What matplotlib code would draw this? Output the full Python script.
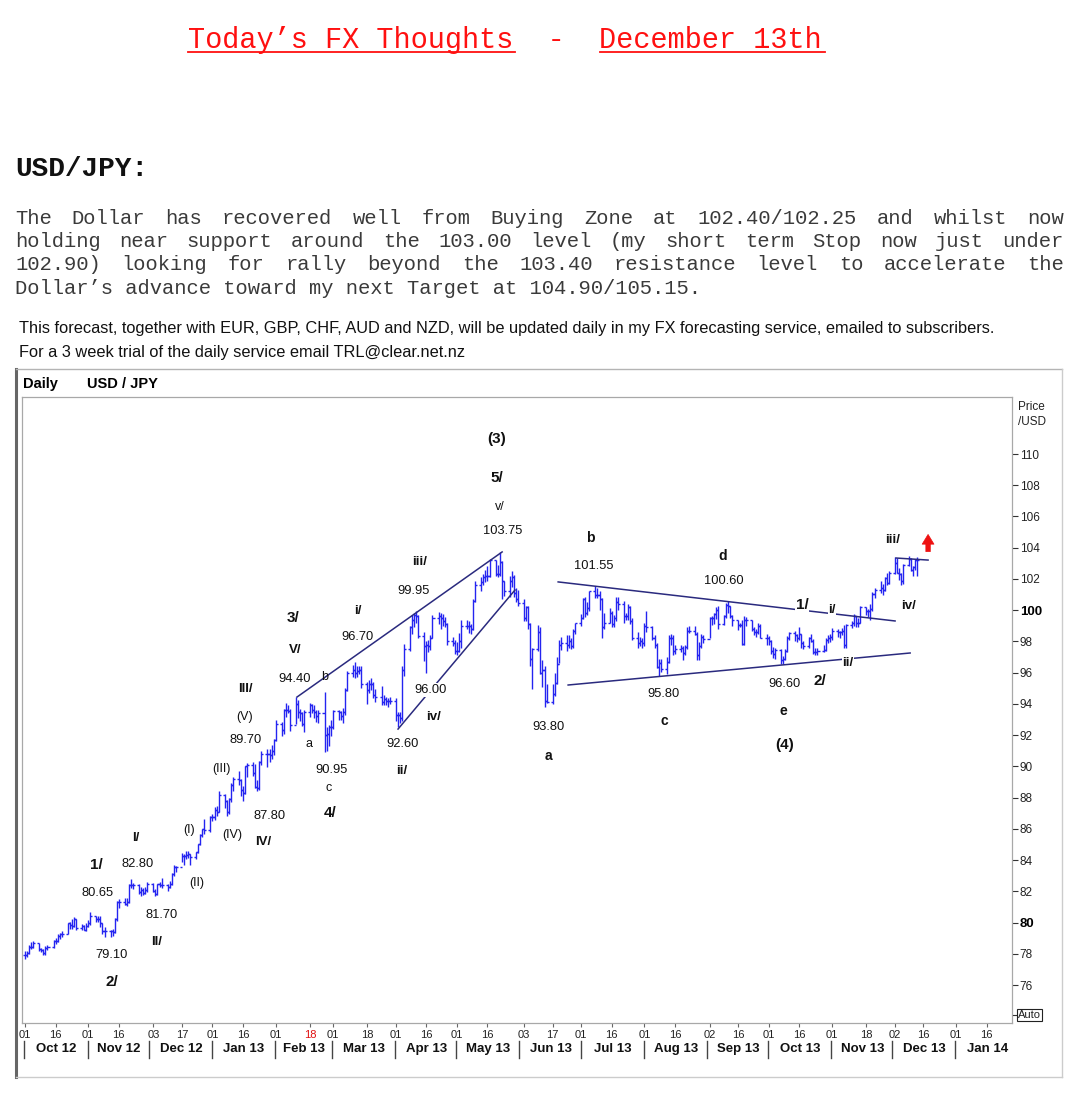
import numpy as np
import pandas as pd
import matplotlib
matplotlib.use("Agg")
import matplotlib.pyplot as plt

plt.rcParams['font.family'] = ['Liberation Sans', 'DejaVu Sans']

# daily USD/JPY bars, Oct 1 2012 - Dec 13 2013 (one value per weekday)
highs = [
    # Oct 12
    78.15, 78.20, 78.55, 78.75, 78.80, 78.70, 78.40, 78.30, 78.50, 78.55, 78.90, 79.00,
    79.25, 79.35, 79.45, 80.00, 80.05, 80.20, 80.35, 80.25, 79.90, 79.85, 79.95,
    # Nov 12
    80.15, 80.65, 80.45, 80.40, 80.45, 80.00, 79.70, 79.55, 79.60, 80.30, 81.40, 81.50,
    81.60, 81.55, 82.50, 82.80, 82.55, 82.45, 82.25, 82.20, 82.25, 82.60,
    # Dec 12
    82.55, 82.15, 82.50, 82.60, 82.85, 82.50, 82.65, 83.15, 83.70, 83.65, 84.45, 84.40,
    84.60, 84.60, 84.40, 84.55, 85.05, 85.70, 86.00, 86.65, 86.80,
    # Jan 13
    86.95, 87.40, 87.45, 88.40, 88.20, 87.85, 88.00, 88.95, 89.30, 89.70, 89.20, 88.75,
    90.05, 90.20, 90.25, 90.15, 89.10, 90.35, 91.00, 91.10, 91.10, 91.40, 91.75,
    # Feb 13
    92.95, 92.85, 93.70, 94.05, 93.90, 93.70, 94.45, 94.25, 93.70, 93.50, 93.60, 94.05,
    94.00, 93.90, 93.60, 93.60, 94.75, 92.50, 92.65, 92.95,
    # Mar 13
    93.60, 93.60, 93.55, 93.75, 95.00, 96.10, 96.50, 96.70, 96.45, 96.45, 96.40, 95.40,
    95.50, 95.65, 95.40, 94.95, 95.15, 94.60, 94.45, 94.40, 94.45,
    # Apr 13
    94.35, 93.45, 93.50, 96.40, 97.85, 99.00, 99.70, 99.80, 99.95, 99.70, 98.60, 98.00,
    98.10, 98.40, 99.70, 99.90, 99.80, 99.75, 99.55, 99.20, 98.30, 98.10,
    # May 13
    97.95, 98.55, 99.35, 99.35, 99.30, 99.10, 100.70, 101.90, 102.15, 102.30, 102.60, 102.80,
    103.30, 103.20, 102.90, 103.75, 103.15, 101.90, 102.20, 102.50, 102.25, 101.45, 101.30,
    # Jun 13
    100.70, 100.25, 100.30, 99.20, 97.60, 99.05, 98.90, 96.80, 96.40, 95.30, 95.25, 95.95,
    97.00, 98.10, 98.30, 98.40, 98.40, 98.20, 98.80, 99.20,
    # Jul 13
    99.75, 100.80, 100.85, 100.55, 101.25, 101.55, 101.40, 101.20, 100.75, 99.80, 100.15, 99.95,
    99.70, 100.85, 100.85, 100.60, 99.85, 100.40, 100.25, 99.50, 98.60, 98.30, 98.25,
    # Aug 13
    99.20, 99.95, 99.00, 98.40, 97.90, 96.90, 96.90, 97.00, 98.40, 98.50, 98.40, 97.80,
    97.80, 97.70, 97.80, 98.90, 99.00, 99.00, 98.60, 97.95, 98.50, 98.40,
    # Sep 13
    99.55, 99.65, 99.85, 100.20, 100.25, 99.70, 100.45, 100.60, 100.30, 99.70, 99.40, 99.20,
    99.35, 99.60, 99.55, 99.40, 98.95, 98.80, 99.20, 99.10, 98.50,
    # Oct 13
    98.35, 98.10, 97.65, 97.60, 97.50, 97.05, 97.50, 98.35, 98.60, 98.65, 98.50, 98.95,
    98.50, 98.00, 98.30, 98.50, 98.15, 97.60, 97.60, 97.75, 98.20, 98.40, 98.45,
    # Nov 13
    98.85, 98.80, 98.70, 98.85, 99.05, 99.10, 99.30, 99.75, 99.65, 99.50, 100.25, 100.20,
    100.10, 100.40, 101.15, 101.40, 101.90, 101.65, 102.15, 102.40, 102.50,
    # Dec 13
    103.40, 103.35, 102.70, 102.35, 102.95, 103.45, 103.35, 102.80, 103.30, 103.40,
]

lows = [
    77.65, 77.80, 78.00, 78.30, 78.35, 78.20, 78.10, 77.95, 77.90, 78.25, 78.35, 78.65,
    78.75, 78.95, 79.05, 79.25, 79.60, 79.60, 79.70, 79.55, 79.50, 79.50, 79.45,
    79.70, 79.85, 80.05, 80.05, 79.70, 79.30, 79.10, 79.10, 79.15, 79.35, 80.10, 80.95,
    81.10, 81.05, 81.25, 82.20, 82.15, 81.80, 81.70, 81.75, 81.80, 81.95,
    81.95, 81.70, 81.75, 82.25, 82.20, 82.05, 82.20, 82.40, 83.00, 83.25, 83.90, 83.70,
    84.10, 84.15, 83.70, 84.10, 84.45, 84.95, 85.50, 85.70, 85.80,
    86.50, 86.55, 86.85, 87.05, 87.35, 86.80, 86.95, 87.75, 88.45, 88.80, 88.10, 87.80,
    88.25, 89.35, 89.40, 88.60, 88.40, 88.50, 90.10, 89.95, 90.25, 90.45, 90.70,
    91.60, 91.95, 92.10, 93.15, 93.40, 92.25, 92.70, 93.10, 92.90, 92.60, 92.20, 93.15,
    93.40, 93.10, 92.85, 92.80, 90.90, 91.00, 91.30, 91.95,
    92.40, 92.95, 92.95, 92.80, 93.30, 94.85, 95.70, 95.65, 95.70, 95.90, 95.05, 94.00,
    94.70, 94.90, 94.40, 94.15, 93.90, 93.95, 93.90, 93.80, 94.00,
    92.90, 92.55, 92.80, 92.90, 95.80, 97.40, 98.50, 98.90, 99.20, 98.20, 96.75, 96.00,
    97.30, 97.45, 98.20, 99.10, 98.80, 99.00, 98.90, 97.80, 97.70, 97.20,
    97.10, 97.30, 97.55, 98.80, 98.55, 98.50, 98.75, 100.50, 101.25, 101.60, 101.80, 101.85,
    102.10, 102.20, 102.15, 102.20, 100.70, 100.90, 100.85, 101.50, 100.85, 100.50, 100.30,
    99.30, 99.30, 98.80, 96.40, 94.95, 97.40, 95.90, 95.10, 93.80, 94.05, 94.00, 94.50,
    95.30, 96.60, 97.45, 97.40, 97.55, 97.50, 97.60, 98.50,
    99.00, 99.45, 99.55, 99.70, 99.95, 100.80, 100.75, 100.00, 98.20, 98.80, 99.15, 98.90,
    98.90, 99.30, 100.00, 99.20, 99.35, 99.40, 99.10, 98.10, 97.60, 97.70, 97.60,
    97.70, 98.60, 98.10, 97.55, 96.30, 95.80, 96.05, 95.90, 96.60, 97.80, 97.15, 97.20,
    97.30, 96.80, 97.10, 97.50, 98.55, 98.40, 96.80, 96.80, 97.60, 97.90,
    98.20, 99.05, 99.10, 99.45, 98.80, 99.05, 99.50, 99.80, 99.50, 99.00, 98.75, 98.90,
    97.75, 97.80, 99.00, 98.70, 98.40, 98.30, 98.50, 98.20, 97.80,
    97.80, 97.20, 96.95, 96.90, 96.55, 96.55, 96.80, 97.30, 98.10, 98.00, 97.95, 98.10,
    97.60, 97.50, 97.60, 97.95, 97.20, 97.15, 97.10, 97.30, 97.40, 97.90, 97.95,
    98.10, 98.30, 98.20, 98.40, 97.60, 97.60, 98.85, 99.00, 98.90, 98.90, 99.15, 99.70,
    99.55, 99.35, 99.95, 100.75, 101.10, 101.00, 101.20, 101.60, 101.70,
    102.30, 102.35, 101.95, 101.60, 101.70, 102.80, 102.50, 102.20, 102.60, 102.20,
]

closes = [
    77.95, 78.05, 78.45, 78.45, 78.70, 78.30, 78.25, 78.05, 78.40, 78.45, 78.80, 78.85,
    79.15, 79.25, 79.30, 79.95, 79.85, 79.80, 80.20, 79.65, 79.75, 79.55, 79.80,
    79.95, 80.45, 80.25, 80.20, 79.95, 79.45, 79.45, 79.45, 79.40, 80.20, 81.30, 81.30,
    81.20, 81.30, 82.40, 82.40, 82.40, 81.95, 82.10, 81.90, 82.10, 82.50,
    82.00, 81.80, 82.45, 82.40, 82.40, 82.30, 82.50, 83.10, 83.55, 83.55, 84.25, 84.25,
    84.35, 84.40, 84.20, 84.50, 85.00, 85.60, 86.00, 85.90, 86.75,
    86.75, 87.20, 87.10, 88.15, 87.80, 87.10, 87.90, 88.80, 89.20, 89.10, 88.50, 88.30,
    90.00, 90.10, 89.60, 88.70, 88.60, 90.30, 90.80, 90.80, 90.70, 91.00, 91.70,
    92.70, 92.30, 93.60, 93.60, 93.55, 92.65, 94.00, 93.50, 93.40, 92.70, 93.50, 93.90,
    93.60, 93.50, 93.20, 93.40, 92.00, 92.10, 92.50, 92.55,
    93.55, 93.50, 93.20, 93.50, 94.90, 96.00, 96.20, 96.00, 96.10, 96.15, 95.25, 94.90,
    95.30, 95.30, 94.55, 94.45, 94.15, 94.30, 94.20, 94.20, 94.20,
    93.30, 93.30, 93.10, 96.20, 97.50, 98.90, 99.40, 99.70, 99.60, 98.35, 97.70, 97.80,
    97.70, 98.20, 99.50, 99.60, 99.50, 99.30, 99.10, 98.00, 97.90, 97.40,
    97.40, 98.00, 99.00, 99.00, 99.00, 98.80, 100.60, 101.60, 101.80, 102.10, 102.20, 102.20,
    103.20, 102.30, 102.30, 103.10, 101.90, 101.20, 101.90, 102.10, 101.10, 100.70, 100.45,
    99.50, 100.20, 99.10, 96.90, 97.50, 98.60, 96.00, 96.15, 94.20, 94.10, 94.65, 95.35,
    96.55, 97.80, 97.90, 97.80, 98.05, 97.70, 98.70, 99.15,
    99.50, 100.70, 99.80, 100.15, 101.20, 101.00, 101.00, 100.70, 98.90, 99.20, 99.85, 99.10,
    99.50, 100.50, 100.40, 99.60, 99.60, 100.20, 99.30, 98.25, 97.90, 98.00, 97.90,
    99.00, 98.90, 98.20, 97.75, 96.35, 96.65, 96.25, 96.70, 98.25, 98.20, 97.40, 97.50,
    97.60, 97.25, 97.65, 98.70, 98.70, 98.50, 97.10, 97.70, 98.30, 98.15,
    99.50, 99.50, 99.75, 100.00, 99.10, 99.60, 100.35, 100.30, 99.60, 99.35, 99.05, 99.05,
    97.85, 99.40, 99.35, 98.80, 98.60, 98.60, 99.00, 98.25, 98.25,
    98.00, 97.40, 97.20, 97.45, 96.80, 96.90, 97.40, 98.20, 98.55, 98.40, 98.20, 98.50,
    97.90, 97.70, 98.20, 98.05, 97.30, 97.35, 97.40, 97.45, 98.10, 98.20, 98.30,
    98.70, 98.60, 98.60, 98.70, 97.80, 99.05, 99.20, 99.60, 99.20, 99.20, 100.20, 99.95,
    99.95, 100.10, 101.05, 101.30, 101.45, 101.30, 102.05, 101.75, 102.40,
    103.05, 102.40, 102.30, 101.85, 102.90, 103.25, 102.55, 102.75, 103.20, 103.20,
]
first_open = 77.90

# x axis: tick dates and month names
tick_dates = ['2012-10-01', '2012-10-16', '2012-11-01', '2012-11-16', '2012-12-03', '2012-12-17',
              '2013-01-01', '2013-01-16', '2013-02-01', '2013-02-18', '2013-03-01', '2013-03-18',
              '2013-04-01', '2013-04-16', '2013-05-01', '2013-05-16', '2013-06-03', '2013-06-17',
              '2013-07-01', '2013-07-16', '2013-08-01', '2013-08-16', '2013-09-02', '2013-09-16',
              '2013-10-01', '2013-10-16', '2013-11-01', '2013-11-18', '2013-12-02', '2013-12-16',
              '2014-01-01', '2014-01-16']
month_names = ['Oct 12', 'Nov 12', 'Dec 12', 'Jan 13', 'Feb 13', 'Mar 13', 'Apr 13', 'May 13',
               'Jun 13', 'Jul 13', 'Aug 13', 'Sep 13', 'Oct 13', 'Nov 13', 'Dec 13', 'Jan 14']
price_ticks = list(range(76, 111, 2))

# wave counts / price notes: text, day offset, price, size, weight
wave_labels = [
    ("(3)", 231.7, 110.96, 11, "bold"), ("5/", 231.7, 108.46, 11, "bold"),
    ("v/", 233.2, 106.61, 9, "normal"), ("103.75", 234.7, 105.07, 9.3, "normal"),
    ("b", 277.4, 104.62, 10, "bold"), ("101.55", 279.3, 102.83, 9.3, "normal"),
    ("d", 342.7, 103.47, 10, "bold"), ("100.60", 343.2, 101.87, 9.3, "normal"),
    ("1/", 381.4, 100.33, 11, "bold"), ("i/", 396.2, 100.01, 9.5, "bold"),
    ("iii/", 426.1, 104.49, 9.5, "bold"), ("iv/", 433.5, 100.27, 9.5, "bold"),
    ("ii/", 404.0, 96.62, 9.5, "bold"), ("2/", 390.3, 95.47, 11, "bold"),
    ("96.60", 372.6, 95.28, 9.3, "normal"), ("e", 372.1, 93.55, 10, "bold"),
    ("(4)", 373.1, 91.37, 11, "bold"), ("95.80", 313.2, 94.64, 9.3, "normal"),
    ("c", 313.7, 92.91, 10, "bold"), ("93.80", 257.2, 92.52, 9.3, "normal"),
    ("a", 256.8, 90.67, 10, "bold"), ("iii/", 193.9, 103.09, 9.5, "bold"),
    ("99.95", 190.5, 101.23, 9.3, "normal"), ("i/", 163.5, 99.95, 9.5, "bold"),
    ("96.70", 163.0, 98.28, 9.3, "normal"), ("3/", 131.6, 99.50, 11, "bold"),
    ("V/", 132.5, 97.45, 9.5, "bold"), ("94.40", 132.1, 95.60, 9.3, "normal"),
    ("b", 147.3, 95.72, 9, "normal"), ("III/", 108.0, 94.96, 9.5, "bold"),
    ("(V)", 108.0, 93.16, 9, "normal"), ("89.70", 108.5, 91.69, 9.3, "normal"),
    ("a", 139.4, 91.43, 9, "normal"), ("96.00", 199.3, 94.89, 9.3, "normal"),
    ("iv/", 200.3, 93.16, 9.5, "bold"), ("92.60", 185.1, 91.43, 9.3, "normal"),
    ("ii/", 185.1, 89.71, 9.5, "bold"), ("90.95", 150.7, 89.77, 9.3, "normal"),
    ("c", 149.2, 88.62, 9, "normal"), ("4/", 149.7, 87.02, 11, "bold"),
    ("(III)", 96.2, 89.83, 9, "normal"), ("87.80", 119.8, 86.82, 9.3, "normal"),
    ("IV/", 116.8, 85.16, 9.5, "bold"), ("(IV)", 101.6, 85.61, 9, "normal"),
    ("(I)", 80.5, 85.93, 9, "normal"), ("I/", 54.5, 85.42, 9.5, "bold"),
    ("1/", 34.9, 83.69, 11, "bold"), ("82.80", 55.5, 83.75, 9.3, "normal"),
    ("(II)", 84.4, 82.54, 9, "normal"), ("80.65", 35.8, 81.89, 9.3, "normal"),
    ("81.70", 66.8, 80.49, 9.3, "normal"), ("II/", 64.8, 78.76, 9.5, "bold"),
    ("79.10", 42.7, 77.93, 9.3, "normal"), ("2/", 42.7, 76.20, 11, "bold"),
]
masked_labels = {"96.00", "1/", "i/", "ii/"}

# trend lines (day offset, price)
trend_lines = [
    ((133.5, 94.44), (234.2, 103.73)),
    ((183.1, 92.39), (240.5, 101.29)),
    ((261.7, 101.81), (427.1, 99.31)),
    ((266.6, 95.21), (434.5, 97.26)),
    ((427.6, 103.34), (443.3, 103.21)),
]

para_lines = [
    "The Dollar has recovered well from Buying Zone at 102.40/102.25 and whilst now",
    "holding near support around the 103.00 level (my short term Stop now just under",
    "102.90) looking for rally beyond the 103.40 resistance level to accelerate the",
    "Dollar\u2019s advance toward my next Target at 104.90/105.15.",
]

W, H = 1087, 1105
def fx(px):
    return px / W
def fy(py):
    return 1 - py / H

fig = plt.figure(figsize=(W / 100, H / 100), dpi=100)

mono = 'Liberation Mono'
# title
fig.text(fx(188), fy(40), "Today\u2019s FX Thoughts  -  December 13th", family=mono,
         fontsize=20.6, color='#ff1010', ha='left', va='center')
for a, b in [(188, 515), (600, 825)]:
    fig.add_artist(plt.Line2D([fx(a), fx(b)], [fy(52), fy(52)], color='#ff1010', lw=1.3))

fig.text(fx(15), fy(169), "USD/JPY:", family=mono, fontsize=20, fontweight='bold',
         ha='left', va='center', color='#111111')

# justified paragraph (monospace -> fixed char width)
psize = 14.75
char_w = psize * 100 / 72 * 0.6
left_px, right_px = 15, 1064
for i, line in enumerate(para_lines):
    ypos = fy(218 + i * 23.4)
    words = line.split(' ')
    if i == len(para_lines) - 1:
        fig.text(fx(left_px), ypos, line, family=mono, fontsize=psize, ha='left', va='center',
                 color='#3a3a3a')
        continue
    used = sum(len(w) for w in words) * char_w
    gap = (right_px - left_px - used) / (len(words) - 1)
    xpos = left_px
    for w in words:
        fig.text(fx(xpos), ypos, w, family=mono, fontsize=psize, ha='left', va='center',
                 color='#3a3a3a')
        xpos += len(w) * char_w + gap

fig.text(fx(19), fy(328), "This forecast, together with EUR, GBP, CHF, AUD and NZD, will be updated "
         "daily in my FX forecasting service, emailed to subscribers.", fontsize=11.8,
         ha='left', va='center', color='#111111')
fig.text(fx(19), fy(353), "For a 3 week trial of the daily service email TRL@clear.net.nz",
         fontsize=11.8, ha='left', va='center', color='#111111')

# outer chart frame
fig.add_artist(plt.Line2D([fx(16), fx(16)], [fy(369), fy(1077)], color='#666666', lw=2.2))
fig.add_artist(plt.Line2D([fx(16), fx(1062)], [fy(369), fy(369)], color='#b4b4b4', lw=1))
fig.add_artist(plt.Line2D([fx(1062), fx(1062)], [fy(369), fy(1077)], color='#cccccc', lw=1))
fig.add_artist(plt.Line2D([fx(16), fx(1062)], [fy(1077), fy(1077)], color='#cccccc', lw=1))
fig.text(fx(23), fy(384), "Daily", fontsize=10.5, fontweight='bold', ha='left', va='center')
fig.text(fx(87), fy(384), "USD / JPY", fontsize=10.5, fontweight='bold', ha='left', va='center')
fig.text(fx(1018), fy(407), "Price", fontsize=8.5, ha='left', va='center', color='#222222')
fig.text(fx(1018), fy(422), "/USD", fontsize=8.5, ha='left', va='center', color='#222222')
fig.text(fx(1018), fy(1015), "Auto", fontsize=8, ha='left', va='center', color='#222222',
         bbox=dict(boxstyle='square,pad=0.08', fc='white', ec='#222222', lw=0.8))
fig.add_artist(plt.Line2D([fx(1013), fx(1017)], [fy(1015), fy(1015)], color='#333333', lw=0.8))

# price chart
ax = fig.add_axes([fx(22), fy(1023), fx(1012) - fx(22), fy(397) - fy(1023)])
for s in ax.spines.values():
    s.set_color('#a8a8a8')
    s.set_linewidth(0.9)

start = pd.Timestamp('2012-10-01')
dates = pd.bdate_range('2012-10-01', '2013-12-13')
n = min(len(dates), len(highs), len(lows), len(closes))
x = np.asarray((dates[:n] - start).days, dtype=float)
hi = np.array(highs[:n])
lo = np.array(lows[:n])
cl = np.array(closes[:n])
op = np.concatenate([[first_open], cl[:-1]])

bar_c = '#2424f0'
ax.vlines(x, lo, hi, color=bar_c, lw=1.0)
ax.hlines(op, x - 1.0, x, color=bar_c, lw=1.0)
ax.hlines(cl, x, x + 1.0, color=bar_c, lw=1.0)

for (x0, y0), (x1, y1) in trend_lines:
    ax.plot([x0, x1], [y0, y1], color='#2a2a7e', lw=1.1)

for txt, lx, ly, fs, fw in wave_labels:
    kw = {}
    if txt in masked_labels:
        kw['bbox'] = dict(boxstyle='square,pad=0.05', fc='white', ec='none')
    ax.text(lx, ly, txt, fontsize=fs, fontweight=fw, ha='center', va='center',
            color='#111111', zorder=5, **kw)

# red "up" arrow at the right end
ax.annotate('', xy=(443.3, 104.85), xytext=(443.3, 103.75),
            arrowprops=dict(arrowstyle='simple,head_width=0.85,head_length=0.7,tail_width=0.32',
                            fc='#ee1111', ec='#ee1111', lw=0.5, shrinkA=0, shrinkB=0))

ax.set_xlim(-1.5, 484.5)
ax.set_ylim(73.57, 113.65)

# right price axis
ax.yaxis.tick_right()
ax.set_yticks(price_ticks)
ax.set_yticklabels([str(p) for p in price_ticks])
ax.tick_params(axis='y', direction='out', length=4, width=0.8, color='#333333', pad=1.5,
               labelsize=8.5, labelcolor='#222222')
for lab in ax.get_yticklabels():
    if lab.get_text() in ('100', '80'):
        lab.set_fontweight('bold')
        lab.set_fontsize(9.5)
        lab.set_color('#000000')

# bottom date axis
tick_x = [(pd.Timestamp(d) - start).days for d in tick_dates]
ax.set_xticks(tick_x)
ax.set_xticklabels([d[-2:] for d in tick_dates])
ax.tick_params(axis='x', direction='out', length=3, width=0.8, color='#666666', pad=2,
               labelsize=8, labelcolor='#222222')
ax.get_xticklabels()[tick_dates.index('2013-02-18')].set_color('#e01010')

month_starts = pd.date_range('2012-10-01', '2014-01-01', freq='MS')
trans = ax.get_xaxis_transform()
for i, ms in enumerate(month_starts):
    mx = (ms - start).days - 0.3
    nxt = ms + pd.offsets.MonthBegin(1)
    cx = ((ms - start).days + (nxt - start).days) / 2
    ax.plot([mx, mx], [-0.0288, -0.0559], transform=trans, clip_on=False,
            color='#444444', lw=1.0)
    ax.text(cx, -0.0415, month_names[i], transform=trans, ha='center', va='center',
            fontsize=9.5, fontweight='bold', color='#111111')

fig.savefig('out.png', dpi=100)
